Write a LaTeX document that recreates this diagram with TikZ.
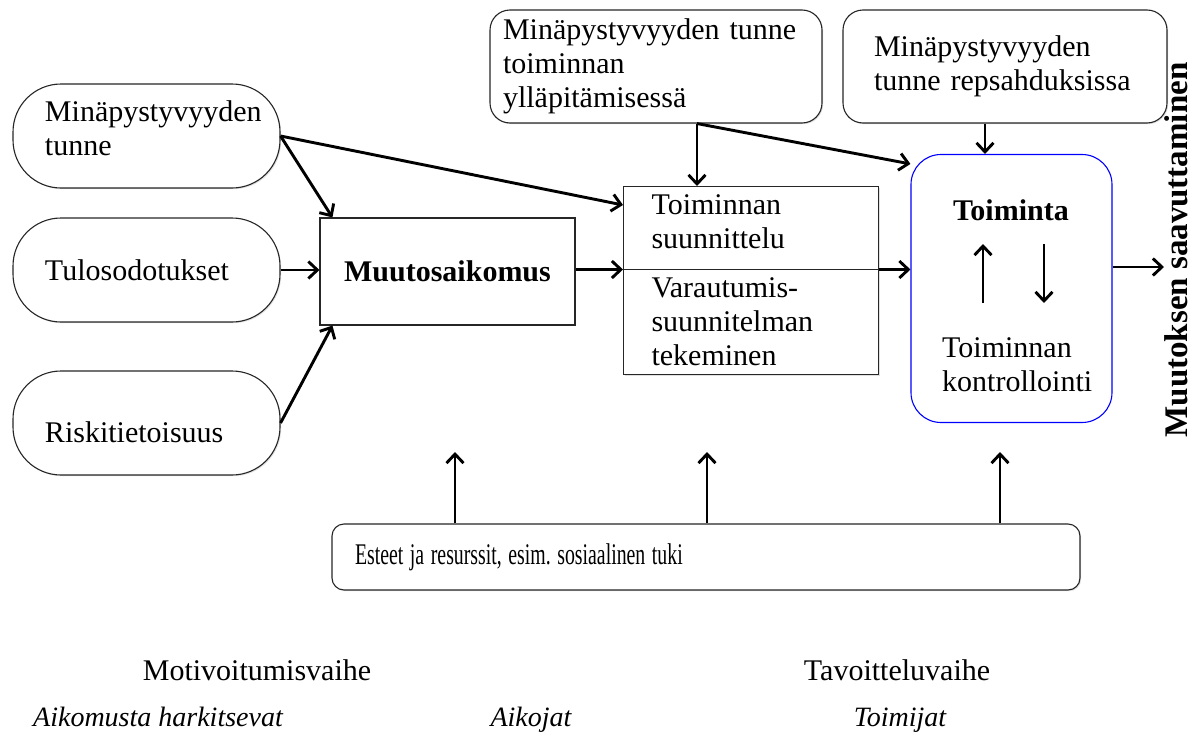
\documentclass[tikz,border=0pt]{standalone}
\usepackage{fontspec}
\usepackage{graphicx}
\setmainfont{Liberation Serif}
\usetikzlibrary{arrows.meta,shapes.multipart,shadows}
\newcommand{\diagfont}{\fontsize{30}{34}\selectfont}
\tikzset{
  arr/.style={line width=2.9pt,-{Straight Barb[length=9pt,width=17pt]}},
  shade/.style={drop shadow={shadow xshift=1.2pt,shadow yshift=-1.2pt,opacity=0.2,fill=black!60}},
  pill/.style={draw=black!85,line width=1.1pt,fill=white,shade,rounded corners=48pt,
    minimum width=267pt,minimum height=104pt,text width=203pt,inner xsep=32pt,align=left},
  topbox/.style={draw=black!85,line width=1.1pt,fill=white,shade,rounded corners=20pt,
    minimum height=113pt,align=left},
  sqbox/.style={draw=black!85,line width=1.1pt,fill=white,shade},
  actbox/.style={draw=blue,line width=1.1pt,fill=white,rounded corners=30pt,
    minimum width=201pt,minimum height=268pt}
}
\begin{document}
\begin{tikzpicture}[x=1pt,y=-1pt,font=\diagfont]
    \useasboundingbox (0,0) rectangle (1195,747);
    % left column
    \node[pill] (selfeff) at (146.5,136) {Minäpystyvyyden\\tunne\rule[-16pt]{0pt}{16pt}};
    \node[pill] (outcome) at (146.5,270) {Tulosodotukset};
    \node[pill] (risk) at (146.5,423) {\rule{0pt}{40pt}Riskitietoisuus};
    \node[sqbox,minimum width=255pt,minimum height=107pt,font=\diagfont\bfseries] (intent) at (447.5,271.5) {Muutosaikomus};
    % planning box
    \node[sqbox,rectangle split,rectangle split parts=2,text width=199pt,inner xsep=28pt,inner ysep=8pt,
      align=left,anchor=north west] (plan) at (623,186)
      {Toiminnan\\suunnittelu\rule[-12pt]{0pt}{12pt}\nodepart{two}Varautumis-\\suunnitelman\\tekeminen};
    % top boxes
    \node[topbox,minimum width=332pt,text width=306pt,inner xsep=13pt] (maint) at (656,66.5)
      {Minäpystyvyyden tunne\\toiminnan\\ylläpitämisessä};
    \node[topbox,minimum width=324pt,text width=262pt,inner xsep=31pt] (relapse) at (1005,66.5)
      {Minäpystyvyyden\\tunne repsahduksissa};
    % action
    \node[actbox] (act) at (1011.5,288.5) {};
    \node[font=\diagfont\bfseries,inner sep=0pt,anchor=base] (acttitle) at (1011,220) {Toiminta};
    \node[inner sep=0pt,anchor=north west,align=left] (ctrl) at (942,337) {Toiminnan\\kontrollointi};
    \draw[arr] ([shift={(-28.5,14.5)}]act.center) -- ([shift={(-28.5,-44.5)}]act.center);
    \draw[arr] ([shift={(32.5,-44.5)}]act.center) -- ([shift={(32.5,14.5)}]act.center);
    \node[font=\fontsize{33}{40}\selectfont\bfseries,rotate=90,anchor=base,inner sep=0pt] (goaltext) at (1187,250) {Muutoksen saavuttaminen};
    % bottom box
    \node[sqbox,rounded corners=12pt,minimum width=748pt,minimum height=66pt,text width=702pt,
      inner xsep=23pt,align=left] (res) at (706,557) {\scalebox{0.66}[1]{Esteet ja resurssit, esim.\ sosiaalinen tuki}};
    \coordinate (goal) at (1164,267);
    \coordinate (maintout) at ([xshift=41pt]maint.south);
    \coordinate (resintent) at (455,452);
    \coordinate (resplan) at (707,452);
    \coordinate (resact) at (1000,452);
    % connectors
    \draw[arr] (selfeff.east) -- ([xshift=13pt]intent.north west);
    \draw[arr] (selfeff.east) -- ([yshift=-19pt]plan.north west);
    \draw[arr] (outcome.east) -- (outcome.east -| intent.west);
    \draw[arr] (risk.east) -- ([xshift=13pt]intent.south west);
    \draw[arr] (intent.east |- plan.text split west) -- (plan.text split west);
    \draw[arr] (plan.text split east) -- (plan.text split east -| act.west);
    \draw[arr] (maintout) -- (maintout |- plan.north);
    \draw[arr] (maintout) -- ([yshift=-10pt]act.north west);
    \draw[arr] ([xshift=-20pt]relapse.south) -- ([xshift=-20pt]relapse.south |- act.north);
    \draw[arr] (goal -| act.east) -- (goal);
    \foreach \p in {resintent,resplan,resact}
      \draw[arr] (\p |- res.north) -- (\p);
    % phases
    \node[anchor=base] (motphase) at (257,680) {Motivoitumisvaihe};
    \node[anchor=base] (volphase) at (897,680) {Tavoitteluvaihe};
    \node[anchor=base,font=\fontsize{28}{34}\selectfont\itshape] (precontemp) at (158,726) {Aikomusta harkitsevat};
    \node[anchor=base,font=\fontsize{28}{34}\selectfont\itshape] (intenders) at (531,726) {Aikojat};
    \node[anchor=base,font=\fontsize{28}{34}\selectfont\itshape] (actors) at (900,726) {Toimijat};
\end{tikzpicture}
\end{document}
